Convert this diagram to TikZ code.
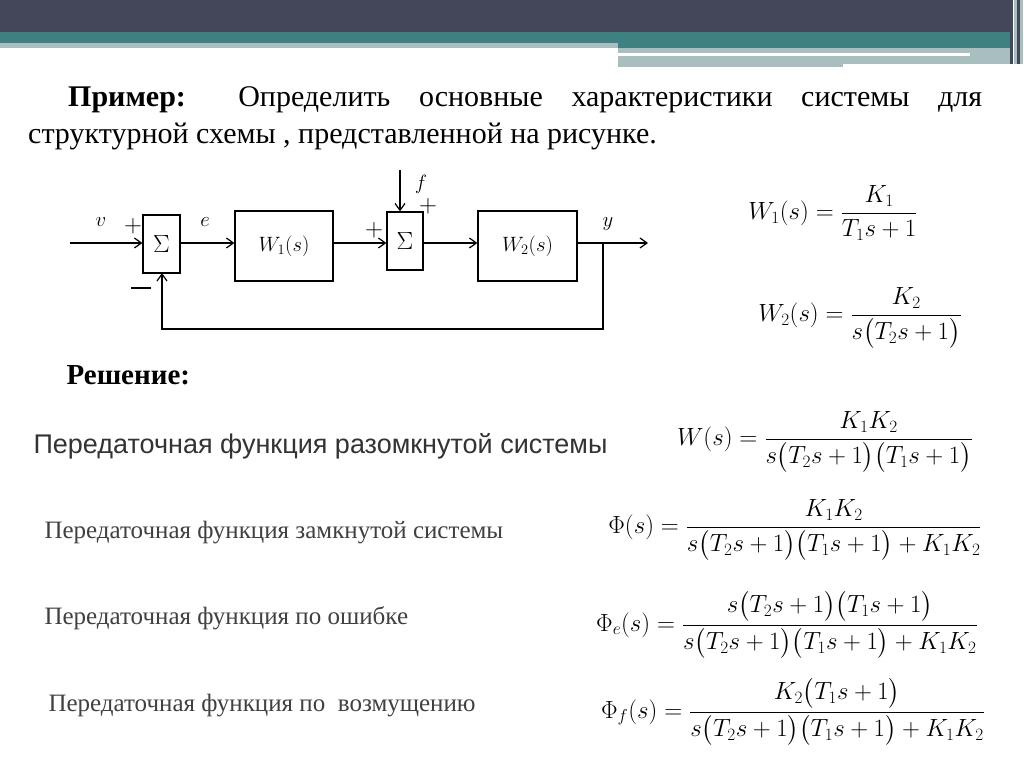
\documentclass[tikz,border=0pt]{standalone}
\usepackage{amsmath}
\usepackage{fontspec}
\setmainfont{Liberation Serif}
\newfontfamily\arialf{Liberation Sans}
\usetikzlibrary{arrows.meta}
\definecolor{dark}{HTML}{44475A}
\definecolor{teal1}{HTML}{3F8080}
\definecolor{lgt}{HTML}{A9BFBF}
\begin{document}
\begin{tikzpicture}[x=1pt,y=-1pt,
  blk/.style={draw,line width=1.2pt,minimum width=#1,inner sep=0pt},
  con/.style={line width=1.2pt,-{Straight Barb[length=7pt,width=10pt,line width=1.2pt]}},
  lbl/.style={font=\fontsize{21}{21}\selectfont\itshape}]
\useasboundingbox (0,0) rectangle (1024,767);
\fill[white] (0,0) rectangle (1024,767);
% header
\fill[dark] (0,0) rectangle (1010,32);
\fill[teal1] (0,32) rectangle (1010,48);
\fill[lgt] (0,43) rectangle (618,48);
\fill[lgt] (618,48) rectangle (1010,64);
\fill[white] (618,53) rectangle (970,56);
\fill[white] (843,64) rectangle (1010,67);
\fill[lgt] (618,56) rectangle (843,67);
\foreach \x/\c in {1010/dark,1014/lgt,1017/dark,1020/lgt} \fill[\c] (\x,0) rectangle ++(3,64);
% title
\node[anchor=north west,text width=954pt,align=justify,inner sep=0pt,font=\fontsize{30}{37}\selectfont] (title) at (28,86)
 {\hspace*{40pt}\textbf{Пример:} Определить основные характеристики системы для структурной схемы , представленной на рисунке.};
% diagram
\node[blk=37pt,minimum height=58pt,font=\fontsize{32}{32}\selectfont] (s1) at (161.5,244) {$\Sigma$};
\node[blk=98pt,minimum height=70pt,font=\fontsize{22}{22}\selectfont] (w1) at (284,246) {$W_1(s)$};
\node[blk=36pt,minimum height=58pt,font=\fontsize{32}{32}\selectfont] (s2) at (405,241) {$\Sigma$};
\node[blk=99pt,minimum height=70pt,font=\fontsize{22}{22}\selectfont] (w2) at (527.5,246) {$W_2(s)$};
\coordinate (in) at (70,243);
\coordinate (out) at (648,243);
\coordinate (fin) at (400,170);
\coordinate (br) at (603,243);
\draw[con] (in) -- (in-|s1.west);
\draw[con] (s1.east|-in) -- (in-|w1.west);
\draw[con] (w1.east|-in) -- (in-|s2.west);
\draw[con] (s2.east|-in) -- (in-|w2.west);
\draw[con] (w2.east|-in) -- (out);
\draw[con] (fin) -- (fin|-s2.north);
\draw[con] (br) -- (603,329) -- (162,329) -- (162,273);
\node[lbl] (lv) at (101,222) {$v$};
\node[lbl] (le) at (205,222) {$e$};
\node[lbl] (lf) at (421,184) {$f$};
\node[lbl] (ly) at (608,224) {$y$};
\node[font=\fontsize{28}{28}\selectfont] (p1) at (133,226) {$+$};
\node[font=\fontsize{28}{28}\selectfont] (p2) at (374,230) {$+$};
\node[font=\fontsize{28}{28}\selectfont] (p3) at (428,206) {$+$};
\draw[line width=2.5pt] (131,288) -- (151,288);
% formulas
\begin{scope}[every node/.style={font=\fontsize{23}{28}\selectfont}]
\node (f1) at (833,213) {$W_1(s)=\dfrac{K_1}{T_1s+1}$};
\node (f2) at (860,318) {$W_2(s)=\dfrac{K_2}{s\bigl(T_2s+1\bigr)}$};
\node (f3) at (825,442) {$W(s)=\dfrac{K_1K_2}{s\bigl(T_2s+1\bigr)\bigl(T_1s+1\bigr)}$};
\node (f4) at (795,530) {$\Phi(s)=\dfrac{K_1K_2}{s\bigl(T_2s+1\bigr)\bigl(T_1s+1\bigr)+K_1K_2}$};
\node (f5) at (787,625) {$\Phi_e(s)=\dfrac{s\bigl(T_2s+1\bigr)\bigl(T_1s+1\bigr)}{s\bigl(T_2s+1\bigr)\bigl(T_1s+1\bigr)+K_1K_2}$};
\node (f6) at (793,712) {$\Phi_f(s)=\dfrac{K_2\bigl(T_1s+1\bigr)}{s\bigl(T_2s+1\bigr)\bigl(T_1s+1\bigr)+K_1K_2}$};
\end{scope}
\node[anchor=west,font=\fontsize{29}{29}\selectfont\bfseries] (sol) at (63,375) {Решение:};
\node[anchor=west,font=\arialf\fontsize{27}{27}\selectfont,text=black!80] (t1) at (30,446) {Передаточная функция разомкнутой системы};
\node[anchor=west,font=\fontsize{25}{25}\selectfont,text=black!75] (t2) at (41,533) {Передаточная функция замкнутой системы};
\node[anchor=west,font=\fontsize{25}{25}\selectfont,text=black!75] (t3) at (41,618) {Передаточная функция по ошибке};
\node[anchor=west,font=\fontsize{25}{25}\selectfont,text=black!75] (t4) at (45,706) {Передаточная функция по\ \ возмущению};
\end{tikzpicture}
\end{document}
